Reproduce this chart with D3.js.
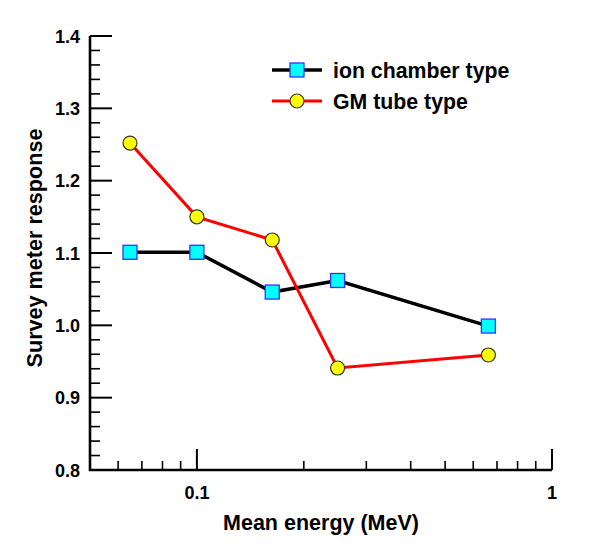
<!DOCTYPE html>
<html>
<head>
<meta charset="utf-8">
<script src="https://cdn.jsdelivr.net/npm/d3@7"></script>
<style>
  html, body { margin: 0; padding: 0; background: #fff; }
  text { font-family: "Liberation Sans", Arial, sans-serif; font-weight: bold; fill: #000; }
</style>
</head>
<body>
<svg id="chart" width="605" height="560"></svg>
<script>
const energies = [0.0648, 0.1, 0.163, 0.249, 0.662];
const ionChamber = [1.101, 1.101, 1.046, 1.062, 0.999];
const gmTube = [1.252, 1.150, 1.118, 0.941, 0.959];
const seriesNames = ["ion chamber type", "GM tube type"];
const yTickValues = [0.8, 0.9, 1.0, 1.1, 1.2, 1.3, 1.4];
const xTickValues = [0.1, 1];
const xTickLabels = ["0.1", "1"];
const xTitle = "Mean energy (MeV)";
const yTitle = "Survey meter response";

const svg = d3.select("#chart");
const x = d3.scaleLog().domain([0.05, 1]).range([90, 552]);
const y = d3.scaleLinear().domain([0.8, 1.4]).range([470, 36]);

// minor ticks
const xMinor = [];
[0.01, 0.1].forEach(d => { for (let k = 1; k <= 9; k++) { const v = +(d * k).toFixed(3); if (v >= 0.05 && v <= 1 && !xTickValues.includes(v)) xMinor.push(v); } });
const yMinor = d3.range(0, 31).map(i => +(0.8 + i * 0.02).toFixed(2)).filter(v => !yTickValues.some(t => Math.abs(t - v) < 1e-9));

const axes = svg.append("g");
axes.selectAll(".xm").data(xMinor.filter(v => v > 0.05)).enter().append("line")
  .attr("x1", d => x(d)).attr("x2", d => x(d))
  .attr("y1", 470).attr("y2", 461)
  .attr("stroke", "#000").attr("stroke-width", 1.6);
axes.selectAll(".xM").data(xTickValues).enter().append("line")
  .attr("x1", d => x(d)).attr("x2", d => x(d))
  .attr("y1", 470).attr("y2", 449)
  .attr("stroke", "#000").attr("stroke-width", 2);
axes.selectAll(".ym").data(yMinor).enter().append("line")
  .attr("x1", 90).attr("x2", 100)
  .attr("y1", d => y(d)).attr("y2", d => y(d))
  .attr("stroke", "#000").attr("stroke-width", 1.6);
axes.selectAll(".yM").data(yTickValues).enter().append("line")
  .attr("x1", 90).attr("x2", 112)
  .attr("y1", d => y(d)).attr("y2", d => y(d))
  .attr("stroke", "#000").attr("stroke-width", 2);
axes.append("path")
  .attr("d", `M${x(0.05)},${y(1.4)}V${y(0.8)}H${x(1)}`)
  .attr("fill", "none").attr("stroke", "#000").attr("stroke-width", 2.6);

axes.selectAll(".yl").data(yTickValues).enter().append("text")
  .attr("x", 80).attr("y", d => y(d) + 6.5)
  .attr("text-anchor", "end").attr("font-size", 18)
  .text(d => d.toFixed(1));
axes.selectAll(".xl").data(xTickValues).enter().append("text")
  .attr("x", d => x(d)).attr("y", 499)
  .attr("text-anchor", "middle").attr("font-size", 18)
  .text((d, i) => xTickLabels[i]);

svg.append("text").attr("x", 321).attr("y", 530)
  .attr("text-anchor", "middle").attr("font-size", 21.5).text(xTitle);
svg.append("text").attr("transform", `translate(42,248) rotate(-90)`)
  .attr("text-anchor", "middle").attr("font-size", 21.6).text(yTitle);

const line = d3.line().x(d => x(d[0])).y(d => y(d[1]));
const ionData = energies.map((e, i) => [e, ionChamber[i]]);
const gmData = energies.map((e, i) => [e, gmTube[i]]);

svg.append("path").datum(ionData).attr("d", line)
  .attr("fill", "none").attr("stroke", "#000").attr("stroke-width", 3.5);
svg.append("path").datum(gmData).attr("d", line)
  .attr("fill", "none").attr("stroke", "#ff0000").attr("stroke-width", 3);

svg.selectAll(".sq").data(ionData).enter().append("rect")
  .attr("x", d => x(d[0]) - 7).attr("y", d => y(d[1]) - 7)
  .attr("width", 14).attr("height", 14)
  .attr("fill", "#00ffff").attr("stroke", "#3333ff").attr("stroke-width", 1.3);
svg.selectAll(".ci").data(gmData).enter().append("circle")
  .attr("cx", d => x(d[0])).attr("cy", d => y(d[1])).attr("r", 7)
  .attr("fill", "#ffff00").attr("stroke", "#333").attr("stroke-width", 1.2);

const leg = svg.append("g");
const rows = [70, 101];
leg.append("line").attr("x1", 272).attr("x2", 322).attr("y1", rows[0]).attr("y2", rows[0])
  .attr("stroke", "#000").attr("stroke-width", 3.5);
leg.append("rect").attr("x", 297 - 7).attr("y", rows[0] - 7).attr("width", 14).attr("height", 14)
  .attr("fill", "#00ffff").attr("stroke", "#3333ff").attr("stroke-width", 1.3);
leg.append("line").attr("x1", 272).attr("x2", 322).attr("y1", rows[1]).attr("y2", rows[1])
  .attr("stroke", "#ff0000").attr("stroke-width", 3);
leg.append("circle").attr("cx", 297).attr("cy", rows[1]).attr("r", 7)
  .attr("fill", "#ffff00").attr("stroke", "#333").attr("stroke-width", 1.2);
leg.selectAll(".lt").data(seriesNames).enter().append("text")
  .attr("x", 333).attr("y", (d, i) => rows[i] + 7.5).attr("font-size", 21.3)
  .text(d => d);
</script>
</body>
</html>
